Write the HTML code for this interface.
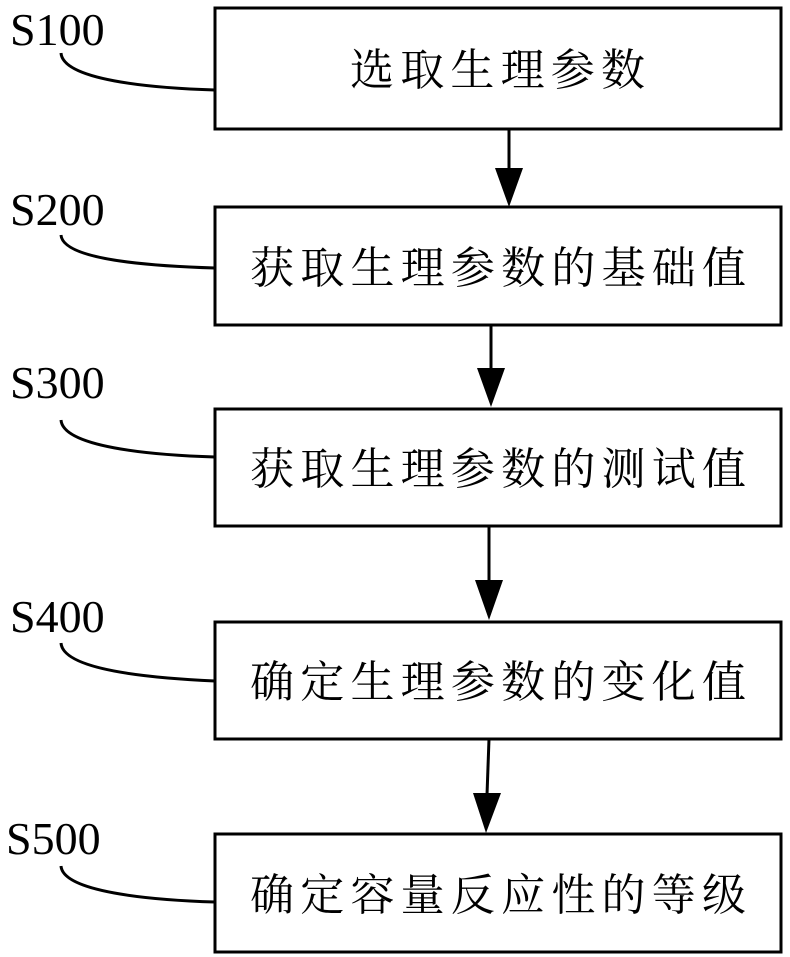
<!DOCTYPE html>
<html><head><meta charset="utf-8"><style>body{margin:0;background:#fff}svg{display:block}</style></head><body>
<svg width="790" height="957" viewBox="0 0 790 957" xmlns="http://www.w3.org/2000/svg">
<g fill="none" stroke="#000" stroke-width="3">
<rect x="215" y="8" width="566" height="121"/>
<rect x="215" y="207" width="566" height="118"/>
<rect x="215" y="409" width="566" height="117"/>
<rect x="215" y="622" width="566" height="117"/>
<rect x="215" y="834" width="566" height="118"/>
<path d="M61,53 C63,80 150,88 215,90"/>
<path d="M61,235 C63,260 150,266 215,268"/>
<path d="M61,420 C63,447 150,455 215,457"/>
<path d="M61,643 C63,670 150,678 215,681"/>
<path d="M61,866 C63,892 150,900 215,902"/>
<line x1="509" y1="129" x2="509" y2="170"/>
<line x1="491" y1="325" x2="491" y2="370"/>
<line x1="489" y1="526" x2="489" y2="582"/>
<line x1="489" y1="739" x2="487" y2="795"/>
</g>
<g fill="#000">
<polygon points="495,168 523,168 509,207"/>
<polygon points="477,368 505,368 491,407"/>
<polygon points="475,580 503,580 489,620"/>
<polygon points="473,793 501,793 486,833"/>
</g>
<g font-family="'Liberation Serif', serif" font-size="46" fill="#000">
<text x="10" y="45">S100</text>
<text x="10" y="225">S200</text>
<text x="10" y="398">S300</text>
<text x="10" y="632">S400</text>
<text x="6" y="854">S500</text>
</g>
<g font-family="'Liberation Serif','Noto Serif CJK SC', serif" font-size="44" fill="#000">
<text x="350" y="85" textLength="295" lengthAdjust="spacing">选取生理参数</text>
<text x="250" y="283" textLength="496" lengthAdjust="spacing">获取生理参数的基础值</text>
<text x="250" y="484" textLength="496" lengthAdjust="spacing">获取生理参数的测试值</text>
<text x="250" y="697" textLength="496" lengthAdjust="spacing">确定生理参数的变化值</text>
<text x="250" y="910" textLength="496" lengthAdjust="spacing">确定容量反应性的等级</text>
</g>
</svg>
</body></html>
